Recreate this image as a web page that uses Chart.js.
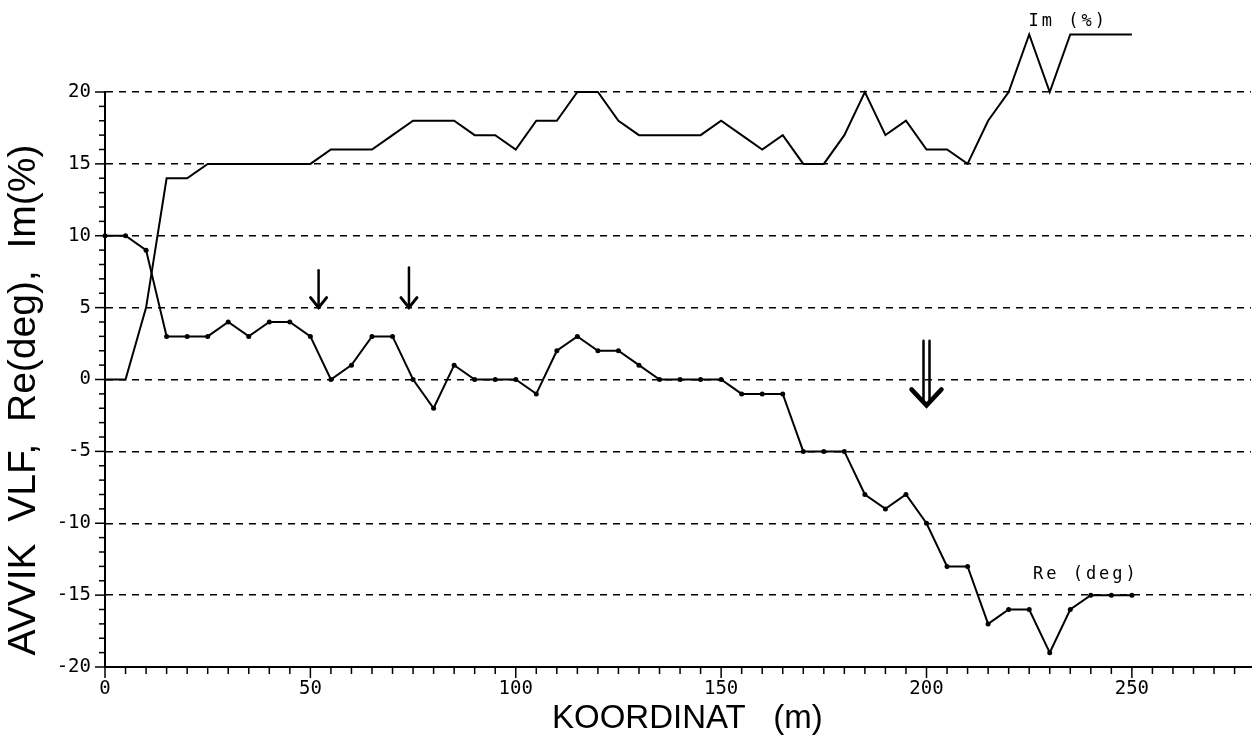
<!DOCTYPE html>
<html>
<head>
<meta charset="utf-8">
<script src="https://cdn.jsdelivr.net/npm/chart.js@4.4.1/dist/chart.umd.min.js"></script>
<style>
html,body{margin:0;padding:0;background:#fff;}
#wrap{width:1255px;height:738px;position:relative;}
</style>
</head>
<body>
<div id="wrap"><canvas id="c"></canvas></div>
<script>
// ---- data ----
const coords = [0,5,10,15,20,25,30,35,40,45,50,55,60,65,70,75,80,85,90,95,100,105,110,115,120,125,130,135,140,145,150,155,160,165,170,175,180,185,190,195,200,205,210,215,220,225,230,235,240,245,250];
const reDeg = [10,10,9,3,3,3,4,3,4,4,3,0,1,3,3,0,-2,1,0,0,0,-1,2,3,2,2,1,0,0,0,0,-1,-1,-1,-5,-5,-5,-8,-9,-8,-10,-13,-13,-17,-16,-16,-19,-16,-15,-15,-15];
const imPct = [0,0,5,14,14,15,15,15,15,15,15,16,16,16,17,18,18,18,17,17,16,18,18,20,20,18,17,17,17,17,18,17,16,17,15,15,17,20,17,18,16,16,15,18,20,24,20,24,24,24,24];
const xTickLabels = [0,50,100,150,200,250];
const yTickLabels = [-20,-15,-10,-5,0,5,10,15,20];
const seriesNames = ['Re (deg)', 'Im (%)'];
const seriesLabelX = [238.8, 234.5];
const seriesLabelY = [-13.6, 24.9];
const arrowX = [52, 74, 200];
const arrowFrom = [7.6, 7.8, 2.7];
const arrowTo = [5, 5, -1.8];
const arrowDouble = [false, false, true];
const xTitle = 'KOORDINAT   (m)';
const yTitle = 'AVVIK  VLF,  Re(deg),  Im(%)';

const toXY = (xs, ys) => xs.map((x, i) => ({x: x, y: ys[i]}));

const decor = {
  id: 'decor',
  afterDraw(chart) {
    const ctx = chart.ctx;
    const xs = chart.scales.x, ys = chart.scales.y;
    const area = chart.chartArea;
    ctx.save();
    ctx.strokeStyle = '#000';
    ctx.fillStyle = '#000';
    ctx.lineWidth = 1.5;
    // x tick marks every 5 units
    for (let v = xs.min; v <= xs.max; v += 5) {
      const px = xs.getPixelForValue(v);
      const len = (v % 50 === 0) ? 11 : 7;
      ctx.beginPath(); ctx.moveTo(px, area.bottom); ctx.lineTo(px, area.bottom + len); ctx.stroke();
    }
    // y tick marks every unit
    for (let v = ys.min; v <= ys.max; v += 1) {
      const py = ys.getPixelForValue(v);
      const len = (v % 5 === 0) ? 10 : 6;
      ctx.beginPath(); ctx.moveTo(area.left, py); ctx.lineTo(area.left - len, py); ctx.stroke();
    }
    // axis titles
    ctx.font = '33px "Liberation Sans", Arial, sans-serif';
    ctx.textAlign = 'left'; ctx.textBaseline = 'alphabetic';
    ctx.fillText(xTitle, 552, 728);
    ctx.save();
    ctx.font = '39px "Liberation Sans", Arial, sans-serif';
    ctx.translate(35, 400);
    ctx.rotate(-Math.PI / 2);
    ctx.textAlign = 'center';
    ctx.fillText(yTitle, 0, 0);
    ctx.restore();
    // series labels
    ctx.font = '17px "DejaVu Sans Mono"';
    if ('letterSpacing' in ctx) ctx.letterSpacing = '3px';
    ctx.textAlign = 'center'; ctx.textBaseline = 'middle';
    seriesNames.forEach((n, i) => {
      ctx.fillText(n, xs.getPixelForValue(seriesLabelX[i]), ys.getPixelForValue(seriesLabelY[i]));
    });
    if ('letterSpacing' in ctx) ctx.letterSpacing = '0px';
    // arrows
    arrowX.forEach((ax, i) => {
      const px = xs.getPixelForValue(ax);
      const y0 = ys.getPixelForValue(arrowFrom[i]);
      const y1 = ys.getPixelForValue(arrowTo[i]);
      ctx.lineCap = 'round';
      if (arrowDouble[i]) {
        ctx.lineWidth = 2.5;
        ctx.beginPath();
        ctx.moveTo(px - 3, y0); ctx.lineTo(px - 3, y1 - 3);
        ctx.moveTo(px + 3, y0); ctx.lineTo(px + 3, y1 - 3);
        ctx.stroke();
        ctx.lineWidth = 4.5;
        ctx.beginPath();
        ctx.moveTo(px - 15, y1 - 16); ctx.lineTo(px, y1); ctx.lineTo(px + 15, y1 - 16);
        ctx.stroke();
      } else {
        ctx.lineWidth = 2.5;
        ctx.beginPath(); ctx.moveTo(px, y0); ctx.lineTo(px, y1); ctx.stroke();
        ctx.lineWidth = 3;
        ctx.beginPath();
        ctx.moveTo(px - 8, y1 - 10); ctx.lineTo(px, y1); ctx.lineTo(px + 8, y1 - 10);
        ctx.stroke();
      }
    });
    ctx.restore();
  }
};

Chart.defaults.color = '#000';
Chart.defaults.font.family = '"DejaVu Sans Mono", monospace';

new Chart(document.getElementById('c'), {
  type: 'line',
  data: {
    datasets: [
      {
        label: seriesNames[0],
        data: toXY(coords, reDeg),
        borderColor: '#000',
        backgroundColor: '#000',
        borderWidth: 2,
        pointRadius: 2.5,
        pointBorderWidth: 0,
        pointBackgroundColor: '#000',
        tension: 0,
        clip: false
      },
      {
        label: seriesNames[1],
        data: toXY(coords, imPct),
        borderColor: '#000',
        borderWidth: 2,
        pointRadius: 0,
        tension: 0,
        clip: false
      }
    ]
  },
  plugins: [decor],
  options: {
    responsive: true,
    maintainAspectRatio: false,
    animation: false,
    layout: { padding: { top: 92, right: 0, left: 0, bottom: 0 } },
    plugins: { legend: { display: false }, tooltip: { enabled: false } },
    scales: {
      x: {
        type: 'linear',
        min: 0, max: 279,
        afterFit: (s) => { s.height = 71; s.paddingRight = 0; s.paddingLeft = 0; },
        grid: { display: false, drawTicks: false },
        border: { display: true, color: '#000', width: 2 },
        ticks: {
          stepSize: 5, autoSkip: false, maxRotation: 0, padding: 11,
          font: { size: 19 },
          callback: (v) => xTickLabels.includes(v) ? String(v) : ''
        },
        title: { display: false }
      },
      y: {
        min: -20, max: 20,
        afterFit: (s) => { s.width = 105; s.paddingTop = 0; s.paddingBottom = 0; },
        grid: {
          drawTicks: false,
          lineWidth: 1.5,
          color: (c) => (c.tick && yTickLabels.includes(c.tick.value) && c.tick.value > -20) ? '#000' : 'rgba(0,0,0,0)'
        },
        border: { display: true, color: '#000', width: 2, dash: [7, 6] },
        ticks: {
          stepSize: 1, autoSkip: false, padding: 14,
          font: { size: 19 },
          callback: (v) => yTickLabels.includes(v) ? String(v) : ''
        },
        title: { display: false }
      }
    }
  }
});
</script>
</body>
</html>
